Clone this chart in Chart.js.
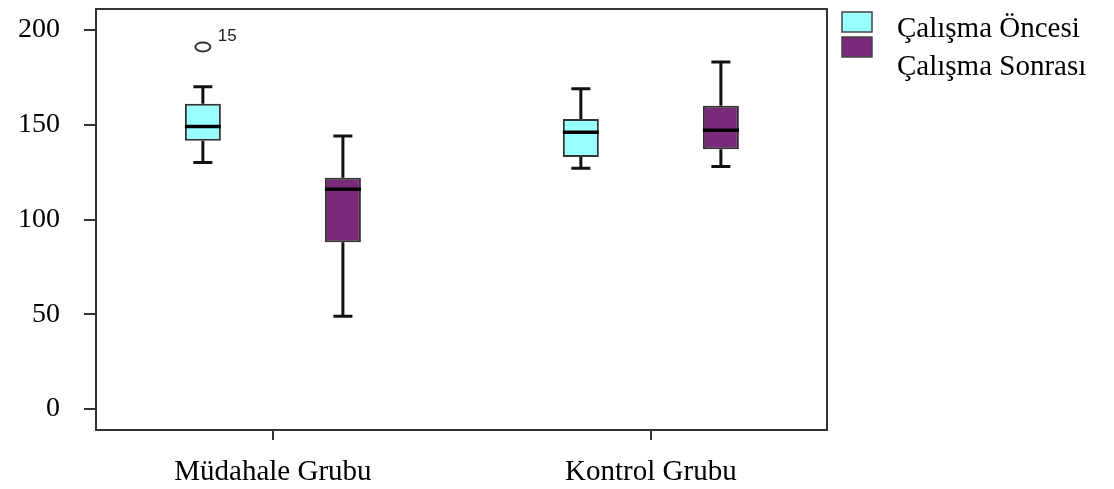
<!DOCTYPE html>
<html>
<head>
<meta charset="utf-8">
<script src="https://cdn.jsdelivr.net/npm/chart.js@4/dist/chart.umd.min.js"></script>
<style>
  html, body { margin: 0; padding: 0; background: #fff; }
  #wrap { width: 1114px; height: 489px; }
</style>
</head>
<body>
<div id="wrap"><canvas id="box-chart" width="1114" height="489"></canvas></div>
<script>
// Kategoriler ve seriler
const categories = ['Müdahale Grubu', 'Kontrol Grubu'];
const seriesNames = ['Çalışma Öncesi', 'Çalışma Sonrası'];

// Çalışma Öncesi (Müdahale, Kontrol)
const oncesiMin = [130, 127];
const oncesiQ1 = [141.5, 133];
const oncesiMedian = [149, 146];
const oncesiQ3 = [161, 153];
const oncesiMax = [170, 169];

// Çalışma Sonrası (Müdahale, Kontrol)
const sonrasiMin = [49, 128];
const sonrasiQ1 = [88, 137];
const sonrasiMedian = [116, 147];
const sonrasiQ3 = [122, 160];
const sonrasiMax = [144, 183];

// Uç değer: Müdahale Grubu, Çalışma Öncesi, vaka 15
const outlierValues = [191];
const outlierLabels = ['15'];

const yTicks = [0, 50, 100, 150, 200];

const colors = ['#99ffff', '#7b2a7b'];
const lineColor = '#333';
const serif = '"Liberation Serif", "Times New Roman", serif';

const stats = [
    { min: oncesiMin, q1: oncesiQ1, med: oncesiMedian, q3: oncesiQ3, max: oncesiMax },
    { min: sonrasiMin, q1: sonrasiQ1, med: sonrasiMedian, q3: sonrasiQ3, max: sonrasiMax }
];

// bıyıklar, medyan, uç değer ve çerçeve
const boxPlugin = {
    id: 'boxExtras',
    afterDatasetsDraw(chart) {
        const { ctx, chartArea, scales: { y } } = chart;
        ctx.save();
        stats.forEach((s, di) => {
            const meta = chart.getDatasetMeta(di);
            meta.data.forEach((bar, i) => {
                const x = bar.x;
                const half = bar.width / 2;
                const cap = 9.5;
                const yMax = y.getPixelForValue(s.max[i]);
                const yMin = y.getPixelForValue(s.min[i]);
                ctx.strokeStyle = '#111';
                ctx.lineWidth = 3;
                ctx.beginPath();
                ctx.moveTo(x, yMax);
                ctx.lineTo(x, y.getPixelForValue(s.q3[i]));
                ctx.moveTo(x, y.getPixelForValue(s.q1[i]));
                ctx.lineTo(x, yMin);
                ctx.moveTo(x - cap, yMax);
                ctx.lineTo(x + cap, yMax);
                ctx.moveTo(x - cap, yMin);
                ctx.lineTo(x + cap, yMin);
                ctx.stroke();
                ctx.lineWidth = 3.5;
                ctx.strokeStyle = '#000';
                ctx.beginPath();
                ctx.moveTo(x - half, y.getPixelForValue(s.med[i]));
                ctx.lineTo(x + half, y.getPixelForValue(s.med[i]));
                ctx.stroke();
            });
        });

        // uç değer
        const ob = chart.getDatasetMeta(0).data[0];
        outlierValues.forEach((v, k) => {
            const py = y.getPixelForValue(v);
            ctx.strokeStyle = lineColor;
            ctx.lineWidth = 2;
            ctx.beginPath();
            ctx.ellipse(ob.x, py, 7.5, 4.5, 0, 0, Math.PI * 2);
            ctx.stroke();
            ctx.fillStyle = '#222';
            ctx.font = '17px "Liberation Sans", Arial, sans-serif';
            ctx.textBaseline = 'alphabetic';
            ctx.textAlign = 'left';
            ctx.fillText(outlierLabels[k], ob.x + 15, py - 6);
        });

        // üst ve sağ çerçeve
        ctx.strokeStyle = lineColor;
        ctx.lineWidth = 2;
        ctx.beginPath();
        ctx.moveTo(chartArea.left, chartArea.top);
        ctx.lineTo(chartArea.right, chartArea.top);
        ctx.lineTo(chartArea.right, chartArea.bottom);
        ctx.stroke();
        ctx.restore();
    },
    afterDraw(chart) {
        // lejant
        const { ctx, chartArea } = chart;
        const bx = chartArea.right + 15;
        ctx.save();
        seriesNames.forEach((name, i) => {
            ctx.fillStyle = colors[i];
            ctx.fillRect(bx, 12 + i * 25, 30, 20);
            ctx.strokeStyle = '#444';
            ctx.lineWidth = 1.5;
            ctx.strokeRect(bx, 12 + i * 25, 30, 20);
            ctx.fillStyle = '#000';
            ctx.font = '29px ' + serif;
            ctx.textAlign = 'left';
            ctx.textBaseline = 'alphabetic';
            ctx.fillText(name, bx + 55, 37 + i * 38);
        });
        ctx.restore();
    }
};

new Chart(document.getElementById('box-chart'), {
    type: 'bar',
    data: {
        datasets: stats.map((s, di) => ({
            label: seriesNames[di],
            data: categories.map((c, i) => ({ x: i + 1, y: [s.q1[i], s.q3[i]] })),
            backgroundColor: colors[di],
            borderColor: '#333',
            borderWidth: 2,
            borderSkipped: false,
            categoryPercentage: 0.741,
            barPercentage: 0.257
        }))
    },
    options: {
        responsive: false,
        animation: false,
        layout: { padding: { top: 9, right: 287, left: 0, bottom: 0 } },
        plugins: {
            legend: { display: false },
            tooltip: { enabled: false }
        },
        scales: {
            x: {
                type: 'linear',
                offset: false,
                min: 0.532,
                max: 2.466,
                afterBuildTicks: (axis) => { axis.ticks = [{ value: 1 }, { value: 2 }]; },
                afterFit: (axis) => {
                    axis.height = 59;
                    axis.paddingLeft = 0;
                    axis.paddingRight = 0;
                },
                grid: { offset: false, drawOnChartArea: false, tickLength: 10, color: lineColor, lineWidth: 2 },
                border: { display: true, color: lineColor, width: 2 },
                ticks: {
                    autoSkip: false,
                    maxRotation: 0,
                    padding: 15,
                    color: '#000',
                    font: { family: serif, size: 29 },
                    callback: (v) => categories[v - 1]
                }
            },
            y: {
                min: -11,
                max: 211,
                afterBuildTicks: (axis) => { axis.ticks = yTicks.map(v => ({ value: v })); },
                afterFit: (axis) => {
                    axis.width = 96;
                    axis.paddingTop = 0;
                    axis.paddingBottom = 0;
                },
                grid: { drawOnChartArea: false, tickLength: 12, color: lineColor, lineWidth: 2 },
                border: { display: true, color: lineColor, width: 2 },
                ticks: {
                    padding: 24,
                    color: '#000',
                    font: { family: serif, size: 28 }
                }
            }
        }
    },
    plugins: [boxPlugin]
});
</script>
</body>
</html>
